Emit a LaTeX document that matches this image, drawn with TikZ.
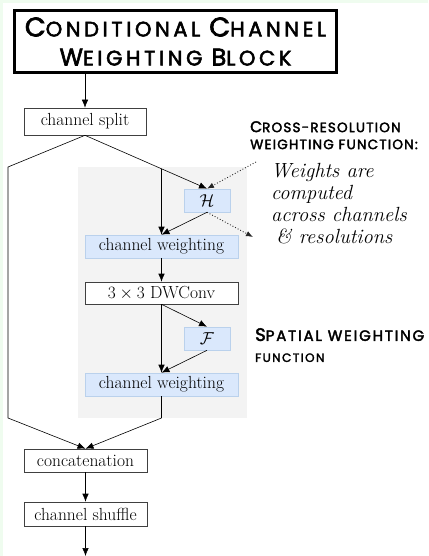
\documentclass[tikz,border=0pt]{standalone}
\usepackage{fontspec}
\usetikzlibrary{arrows.meta,calc}
\newfontfamily\markerfont{Poppins}[FakeBold=2.5,LetterSpace=12]
\newfontfamily\notefont{Poppins}[FakeBold=2.5,LetterSpace=9]
\newfontfamily\titlefont{Poppins}[FakeBold=2.5,LetterSpace=17]
\definecolor{panelgray}{HTML}{F3F3F3}
\definecolor{wfill}{HTML}{DAE8FC}
\definecolor{wdraw}{HTML}{BAD1EC}
\definecolor{edgegreen}{HTML}{EFFCEF}
\newcommand\bigini[2]{{\fontsize{#1}{#1}\selectfont #2}}
\begin{document}
\begin{tikzpicture}[x=1pt,y=-1pt,
  box/.style={draw=black!75,line width=0.6pt,fill=white,inner sep=0pt,
    minimum height=23pt,font=\fontsize{17.5}{20}\selectfont},
  wbox/.style={box,draw=wdraw,fill=wfill},
  flow/.style={-{Latex[length=8pt,width=6.5pt]},line width=0.6pt},
  plain/.style={line width=0.6pt},
  note/.style={-{Latex[length=7pt,width=5.5pt]},dotted,line width=0.9pt,black!85},
  hand/.style={align=left,anchor=north west,inner sep=0pt},
  ]
\useasboundingbox (0,0) rectangle (428,556);
\fill[white] (0,0) rectangle (428,556);
\fill[edgegreen] (0,0) rectangle (3,556);
\fill[edgegreen] (0,0) rectangle (428,3);
% shaded panel behind the weighting stage
\fill[panelgray] (78,167) rectangle (247,418);

% title
\node[draw,line width=3pt,minimum width=322pt,minimum height=62pt,inner sep=0pt,
  align=center,font=\titlefont\fontsize{21}{29}\selectfont] (title) at (175.5,41.5)
  {\bigini{27}{C}ONDITIONAL \bigini{27}{C}HANNEL\\\bigini{24}{W}EIGHTING \bigini{24}{B}LOCK};

% processing blocks
\node[box,minimum width=122pt,minimum height=27pt] (split) at (85,121.5) {channel split};
\node[wbox,minimum width=46pt] (H) at (207,200.5) {$\mathcal{H}$};
\node[wbox,minimum width=153pt] (cw1) at (161.5,246.5) {channel weighting};
\node[box,minimum width=153pt,minimum height=22pt] (dw) at (161.5,293) {$3\times3$ DWConv};
\node[wbox,minimum width=46pt] (F) at (207,338.5) {$\mathcal{F}$};
\node[wbox,minimum width=153pt] (cw2) at (161.5,384.5) {channel weighting};
\node[box,minimum width=123pt] (cat) at (85.5,460.5) {concatenation};
\node[box,minimum width=123pt,minimum height=24pt] (shuf) at (85.5,514) {channel shuffle};

% annotations
\node[hand,font=\notefont\fontsize{13.5}{17}\selectfont] (crossnote) at (250,121)
  {\bigini{15.5}{C}ROSS-RESOLUTION\\WEIGHTING FUNCTION:};
\node[hand,font=\itshape\addfontfeatures{FakeBold=1.5}\fontsize{20.5}{22}\selectfont] (detail) at (271,163)
  {Weights are\\computed\\across channels\\\hspace{5pt}\& resolutions};
\node[hand,font=\markerfont\fontsize{15}{21}\selectfont] (spatnote) at (255,328)
  {\bigini{18}{S}PATIAL WEIGHTING\\{\fontsize{12}{12}\selectfont FUNCTION}};

% routing points
\coordinate (lft) at (8,167);
\coordinate (lfb) at (8,418);
\coordinate (rb) at (161.5,418);
\coordinate (br) at (intersection of split.south--H.north and cw1.north--dw.north);
\coordinate (out) at (85.5,556);
\coordinate (n1) at (256,162);
\coordinate (n2) at (253,237);

% connectors
\draw[flow] (title.south -| split.north) -- (split.north);
\draw[plain] (split.south) -- (lft) -- (lfb);
\draw[flow] (lfb) -- (cat.north);
\draw[flow] (split.south) -- (H.north);
\draw[flow] (br) -- (cw1.north);
\draw[flow] (H.south) -- (cw1.north);
\draw[flow] (cw1) -- (dw);
\draw[flow] (dw.south) -- (F.north);
\draw[flow] (dw) -- (cw2);
\draw[flow] (F.south) -- (cw2.north);
\draw[plain] (cw2.south) -- (rb);
\draw[flow] (rb) -- (cat.north);
\draw[flow] (cat) -- (shuf);
\draw[flow] (shuf) -- (out);
\draw[note] (n1) -- (H.north);
\draw[note] (H.south) -- (n2);
\end{tikzpicture}
\end{document}
